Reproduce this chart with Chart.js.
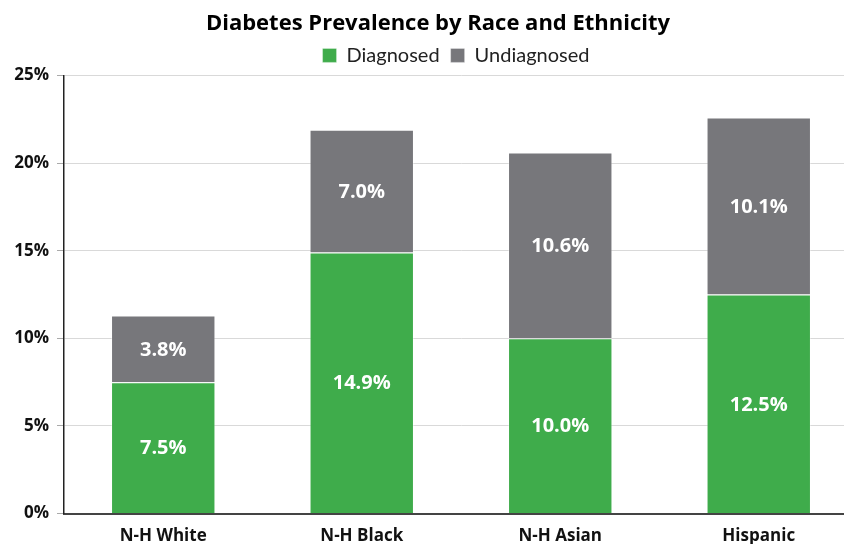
<!DOCTYPE html>
<html><head><meta charset="utf-8">
<script src="https://cdn.jsdelivr.net/npm/chart.js@4/dist/chart.umd.min.js"></script>
<style>
html,body{margin:0;padding:0;background:#fff;overflow:hidden;}
#wrap{width:858px;height:544px;position:relative;}
</style>
</head><body>
<div id="wrap"><canvas id="c" width="858" height="544"></canvas></div>
<script>
const categories = ["N-H White", "N-H Black", "N-H Asian", "Hispanic"];
const diagnosed = [7.5, 14.9, 10.0, 12.5];
const undiagnosed = [3.8, 7.0, 10.6, 10.1];
const yTicks = [0, 5, 10, 15, 20, 25];

const labelPlugin = {
  id: 'segLabels',
  afterLayout(chart) {
    // shift title/legend horizontally to match reference centering
    if (chart.titleBlock) { chart.titleBlock.left += 8; chart.titleBlock.right += 8; }
    if (chart.legend) { chart.legend.left += 26; chart.legend.right += 26; }
  },
  afterDatasetsDraw(chart) {
    const ctx = chart.ctx;
    ctx.save();
    ctx.fillStyle = '#ffffff';
    ctx.font = 'bold 20px "Open Sans", sans-serif';
    ctx.textAlign = 'center';
    ctx.textBaseline = 'middle';
    chart.data.datasets.forEach((ds, di) => {
      const meta = chart.getDatasetMeta(di);
      meta.data.forEach((bar, i) => {
        const v = ds.data[i];
        const yMid = (bar.y + bar.base) / 2;
        ctx.fillText(v.toFixed(1) + '%', bar.x, yMid + 1);
      });
    });
    ctx.restore();
  }
};

new Chart(document.getElementById('c'), {
  type: 'bar',
  data: {
    labels: categories,
    datasets: [
      { label: 'Diagnosed', data: diagnosed, backgroundColor: '#3fac4b', borderColor: 'rgba(255,255,255,0.35)', borderWidth: 1, barPercentage: 0.526, categoryPercentage: 1.0 },
      { label: 'Undiagnosed', data: undiagnosed, backgroundColor: '#77777b', borderColor: 'rgba(255,255,255,0.35)', borderWidth: 1, barPercentage: 0.526, categoryPercentage: 1.0 }
    ]
  },
  options: {
    responsive: false,
    animation: false,
    devicePixelRatio: 1,
    layout: { padding: { left: 2, right: 0, top: 8, bottom: -6 } },
    plugins: {
      title: { display: true, text: 'Diabetes Prevalence by Race and Ethnicity', color: '#000', font: { family: '"Open Sans", sans-serif', size: 22, weight: 'bold' }, padding: { top: 3, bottom: -3 } },
      legend: { display: true, labels: { color: '#222', font: { family: 'Lato, sans-serif', size: 20 }, boxWidth: 14, boxHeight: 14, padding: 11 } },
      tooltip: { enabled: false }
    },
    scales: {
      x: {
        stacked: true,
        grid: { display: false },
        border: { display: true, color: '#444', width: 2 },
        ticks: { color: '#111', font: { family: '"Liberation Sans Narrow", "Open Sans", sans-serif', size: 17, weight: 'bold' }, padding: 4 }
      },
      y: {
        stacked: true,
        min: 0, max: 25,
        afterBuildTicks(scale) { scale.ticks = yTicks.map(v => ({ value: v })); },
        afterFit(scale) { scale.width = 62; },
        grid: { color: '#d9d9d9', lineWidth: 1, tickLength: 7, tickColor: '#aaa' },
        border: { display: true, color: '#222', width: 1.5 },
        ticks: { color: '#111', font: { family: '"Open Sans", sans-serif', size: 17, weight: 'bold' }, padding: 8, callback: v => v + '%' }
      }
    }
  },
  plugins: [labelPlugin]
});
</script>
</body></html>
